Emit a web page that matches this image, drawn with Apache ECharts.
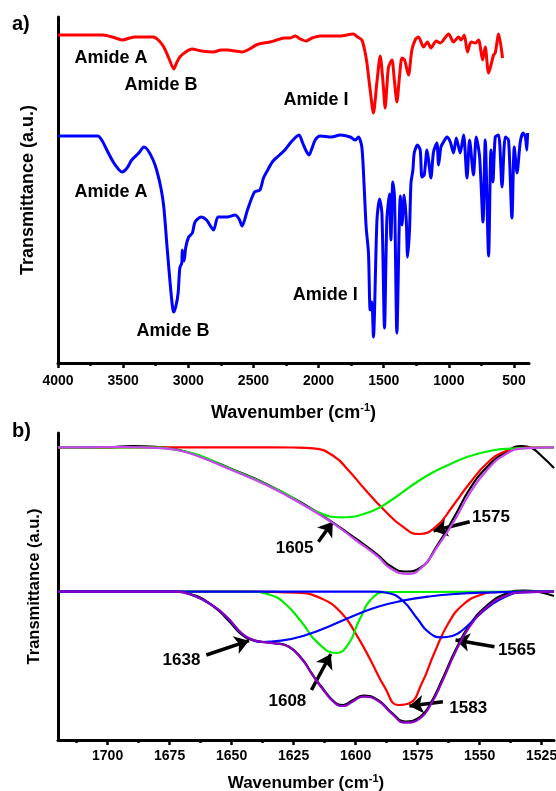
<!DOCTYPE html>
<html>
<head>
<meta charset="utf-8">
<script src="https://cdn.jsdelivr.net/npm/echarts@6/dist/echarts.min.js"></script>
<style>
  html, body { margin: 0; padding: 0; background: #fff; }
  #chart { width: 556px; height: 791px; }
</style>
</head>
<body>
<div id="chart"></div>
<script>
// ---- Panel a: full FTIR spectra, [wavenumber, transmittance a.u.] ----
const wnTicksA = [4000, 3500, 3000, 2500, 2000, 1500, 1000, 500];
const wnMinorA = [3750, 3250, 2750, 2250, 1750, 1250, 750];

const redA = [
  [4000,328],[3850,328],[3654,328],[3560,325],[3502,323],[3450,325],[3409,326],[3270,326],
  [3230,323],[3188,316],[3150,305],[3111,294],[3090,300],[3065,306],[3020,311],[2971,314],
  [2900,312],[2806,311],[2750,313],[2696,313],[2640,312],[2587,311],[2530,314],[2479,318],
  [2420,320],[2372,321],[2320,323],[2259,325],[2220,325],[2180,327],[2140,324],[2095,322],
  [2050,325],[1988,327],[1900,327],[1834,327],[1734,329],[1700,326],[1668,323],[1645,312],
  [1629,300],[1604,273],[1579,250],[1553,280],[1527,307],[1505,280],[1489,255],[1475,278],
  [1463,296],[1437,303],[1420,285],[1399,261],[1380,285],[1360,305],[1340,303],[1310,288],
  [1284,313],[1255,324],[1233,326],[1195,316],[1164,321],[1138,315],[1097,322],[1066,320],
  [1002,329],[964,321],[926,326],[907,323],[882,328],[857,311],[830,321],[797,320],[772,323],
  [741,303],[721,316],[695,290],[657,308],[644,310],[618,329],[588,305]
];

const blueA = [
  [4000,227],[3800,227],[3694,227],[3660,222],[3625,213],[3571,200],[3508,191],[3470,195],
  [3434,203],[3380,210],[3340,216],[3311,213],[3270,203],[3243,193],[3210,175],[3188,156],
  [3161,113],[3136,75],[3120,55],[3111,51],[3095,57],[3078,70],[3065,95],[3050,100],
  [3046,113],[3032,102],[3019,116],[2997,126],[2969,130],[2948,141],[2902,146],[2860,143],
  [2806,133],[2773,146],[2740,146],[2696,146],[2641,148],[2610,144],[2587,137],[2546,153],
  [2492,171],[2450,173],[2423,185],[2390,193],[2355,201],[2300,208],[2259,213],[2204,222],
  [2150,228],[2122,220],[2095,212],[2073,208],[2050,215],[2026,223],[1988,227],[1900,226],
  [1834,228],[1757,226],[1719,223],[1694,226],[1668,216],[1650,176],[1635,136],[1617,110],
  [1604,53],[1591,61],[1579,26],[1552,143],[1532,164],[1514,150],[1494,35],[1476,143],
  [1456,169],[1445,123],[1430,181],[1417,166],[1399,30],[1373,167],[1360,138],[1343,168],
  [1327,143],[1317,106],[1302,133],[1291,180],[1276,193],[1266,210],[1241,218],[1220,213],
  [1207,186],[1189,188],[1168,213],[1156,203],[1138,185],[1118,211],[1092,220],[1079,198],
  [1061,216],[1041,221],[1015,226],[989,221],[964,210],[943,225],[913,210],[887,228],
  [861,185],[841,223],[811,188],[790,226],[764,206],[738,141],[721,223],[695,107],[677,213],
  [662,181],[644,226],[618,228],[592,176],[567,226],[542,223],[516,145],[498,216],[477,190],
  [452,221],[431,230],[413,226],[401,213],[396,230]
];

const labelsA = [
  { name: 'Amide A', value: [3593, 304.7] },
  { name: 'Amide B', value: [3209, 278] },
  { name: 'Amide I', value: [2019, 263] },
  { name: 'Amide A', value: [3593, 171.3] },
  { name: 'Amide B', value: [3117, 32] },
  { name: 'Amide I', value: [1949, 68] }
];

// ---- Panel b: amide I deconvolution, [wavenumber, transmittance a.u.] ----
const wnTicksB = [1700, 1675, 1650, 1625, 1600, 1575, 1550, 1525];
const wnMinorB = [1712.5, 1687.5, 1662.5, 1637.5, 1612.5, 1587.5, 1562.5, 1537.5];

const measuredTop = [
  [1720,292.7],[1700,292.7],[1690,294],[1680,293],[1672,290.5],[1663,284],[1650,271],
  [1636,256],[1621,236],[1609,217],[1600,201.5],[1591,185],[1586,174],[1580,168.5],
  [1574,172],[1567,195],[1560,224],[1554,251],[1547,273],[1540,287],[1533,294],[1529,292],
  [1525,284],[1520,272]
];
const fitTop = [
  [1720,292.7],[1693,293],[1680,292],[1672,290],[1663,283.3],[1650,270],[1636,255],
  [1621,235],[1609,216.7],[1600,200],[1591,183.3],[1586,171.7],[1579,166],[1573,173.3],
  [1567,193.3],[1560,220],[1554,246.7],[1547,270],[1540,285],[1532,291.7],[1520,292.7]
];
const band1575Top = [
  [1720,292.7],[1640,292.7],[1625,292.5],[1617,291.7],[1608.5,283.3],[1603,270],[1596,250],
  [1588.5,230],[1581,213.3],[1574.5,206],[1567.6,213.3],[1561,233.3],[1554,256.7],
  [1547,276.7],[1540,288.3],[1531,292.3],[1520,292.7]
];
const band1605Top = [
  [1720,292.7],[1686,292.7],[1672,290],[1650,270.7],[1628.6,246.7],[1617,230],
  [1605.6,222.7],[1594,228.3],[1585.5,240],[1574,260],[1562.6,275],[1550,286.7],
  [1535,291.7],[1520,292.7]
];

const measuredBot = [
  [1720,148.3],[1675,148.5],[1666,145.5],[1657,133],[1651.5,120],[1646,105.5],[1643,101],
  [1638.6,98.5],[1633,97],[1627,93.5],[1621.4,80.5],[1617.8,67],[1614,54],[1608.5,38],
  [1605,35],[1601.3,39.5],[1597,44.5],[1591,40],[1585.5,27.5],[1580,18.5],[1574,23],
  [1569.8,36.5],[1564.8,62],[1559.7,90],[1554,115],[1546.8,135],[1539.6,146],[1532,149.5],
  [1526,148],[1520,144]
];
const fitBot = [
  [1720,148.3],[1674.5,148.3],[1666,145],[1657,133.3],[1651.5,121.7],[1646,106.7],
  [1643,101.7],[1638.6,98.3],[1633,96.7],[1627,93.3],[1621.4,80],[1617.8,66.7],[1614,53.3],
  [1608.5,37.3],[1605,34],[1601.3,38.3],[1597,43.3],[1591,39.3],[1585.5,26.7],[1580,17.3],
  [1574,21.7],[1569.8,35],[1564.8,60],[1559.7,88.3],[1554,113.3],[1546.8,133.3],
  [1539.6,144],[1532.5,147.7],[1520,148.3]
];
const band1583Bot = [
  [1720,148.3],[1643,148.3],[1624.3,147.3],[1614,141.7],[1605.6,126.7],[1600,106.7],
  [1594,80],[1588.4,53.3],[1582.7,35],[1578.3,36.7],[1573.3,56.7],[1568.3,86.7],
  [1562.6,116.7],[1556.8,135],[1549.7,145],[1542.5,148],[1520,148.3]
];
const band1608Bot = [
  [1720,148.3],[1643,148.3],[1634.3,145],[1628.6,136.7],[1621.4,116.7],[1615.7,98.3],
  [1607.8,87],[1602.7,96.7],[1598.5,120],[1592.7,143.3],[1587,148],[1520,148.3]
];
const band1638Bot = [
  [1720,148.3],[1672,148.3],[1666,145],[1657,133.3],[1651.5,121.7],[1646,106.7],
  [1642,100.5],[1638,98],[1630,99.3],[1620,105],[1611,113.3],[1600,125],[1591,133.3],
  [1581,139.3],[1571,143.3],[1560,146],[1545,147.6],[1530,148.3],[1520,148.3]
];
const band1565Bot = [
  [1720,148.3],[1592,148.3],[1587,147],[1581.3,140],[1575,121],[1570.8,108.3],
  [1565.5,102.7],[1561,104],[1556.8,110],[1551,123.3],[1545.4,135],[1539.6,143.3],
  [1533.9,147.6],[1520,148.3]
];

const labelsB = [
  { name: '1605', value: [1624.6, 191.7] },
  { name: '1575', value: [1545.4, 222.7] },
  { name: '1638', value: [1670.2, 80] },
  { name: '1608', value: [1627.5, 38.3] },
  { name: '1565', value: [1535, 90] },
  { name: '1583', value: [1554.6, 31.7] }
];
// pointer arrows: [tail, head]
const arrowsB = [
  [[1615, 198.3], [1609.2, 218.3]],
  [[1554, 218.3], [1568.6, 209.3]],
  [[1660.2, 85], [1643, 99.3]],
  [[1617.8, 50], [1610, 86]],
  [[1544, 93.3], [1559.7, 100]],
  [[1564.8, 38.3], [1578.3, 34]]
];

const FONT = 'Liberation Sans';

function titleStyle(size) {
  return {
    fontSize: size, fontWeight: 'bold', color: '#000', fontFamily: FONT, lineHeight: size + 4,
    rich: { sup: { fontSize: Math.round(size * 0.62), fontWeight: 'bold', color: '#000',
                   fontFamily: FONT, verticalAlign: 'top', lineHeight: Math.round(size * 0.62) } }
  };
}

function xAxes(grid, min, max, major, minor, margin, gap, size) {
  return [
    {
      gridIndex: grid, type: 'value', min: min, max: max, inverse: true, position: 'bottom',
      axisLine: { show: true, onZero: false, lineStyle: { color: '#000', width: 3 } },
      axisTick: { show: true, customValues: major, length: 5, lineStyle: { color: '#000', width: 2.5 } },
      axisLabel: { customValues: major, color: '#000', fontSize: 14, fontWeight: 'bold',
                   fontFamily: FONT, margin: margin, hideOverlap: false,
                   formatter: v => String(v) },
      splitLine: { show: false },
      name: 'Wavenumber (cm{sup|-1})', nameLocation: 'middle', nameGap: gap,
      nameTextStyle: titleStyle(size)
    },
    {
      gridIndex: grid, type: 'value', min: min, max: max, inverse: true, position: 'bottom',
      axisLine: { show: false, onZero: false },
      axisTick: { show: true, customValues: minor, length: 3, lineStyle: { color: '#000', width: 2.5 } },
      axisLabel: { show: false },
      splitLine: { show: false }
    }
  ];
}

function yAxis(grid, max, gap, size) {
  return {
    gridIndex: grid, type: 'value', min: 0, max: max, position: 'left',
    axisLine: { show: true, onZero: false, lineStyle: { color: '#000', width: 3 } },
    axisTick: { show: false }, axisLabel: { show: false }, splitLine: { show: false },
    name: 'Transmittance (a.u.)', nameLocation: 'middle', nameRotate: 90, nameGap: gap,
    nameTextStyle: { fontSize: size, fontWeight: 'bold', color: '#000', fontFamily: FONT }
  };
}

function curve(data, color, width, xi, yi, smooth) {
  return {
    type: 'line', data: data, xAxisIndex: xi, yAxisIndex: yi, showSymbol: false,
    smooth: smooth, silent: true, lineStyle: { color: color, width: width },
    itemStyle: { color: color }
  };
}

function textMarks(data, xi, yi, size) {
  return {
    type: 'scatter', data: data, xAxisIndex: xi, yAxisIndex: yi, symbolSize: 0, silent: true,
    itemStyle: { opacity: 1, color: '#000' },
    label: { show: true, position: 'inside', formatter: '{b}', color: '#000', opacity: 1,
             fontSize: size, fontWeight: 'bold', fontFamily: FONT }
  };
}

const chart = echarts.init(document.getElementById('chart'), null, { renderer: 'canvas' });

chart.setOption({
  animation: false,
  backgroundColor: '#fff',
  textStyle: { fontFamily: FONT, fontWeight: 'bold' },
  grid: [
    { left: 58, top: 17, width: 471, height: 346, containLabel: false, outerBoundsMode: 'none' },
    { left: 58, top: 433, width: 496, height: 307, containLabel: false, outerBoundsMode: 'none' }
  ],
  xAxis: [
    ...xAxes(0, 385, 4000, wnTicksA, wnMinorA, 11, 39, 18),
    ...xAxes(1, 1520, 1720, wnTicksB, wnMinorB, 9, 33, 17)
  ],
  yAxis: [yAxis(0, 346, 21, 18), yAxis(1, 307, 15, 16.5)],
  graphic: [
    { type: 'text', left: 12, top: 14, style: { text: 'a)', font: 'bold 20px "Liberation Sans"', fill: '#000' } },
    { type: 'text', left: 12, top: 421, style: { text: 'b)', font: 'bold 20px "Liberation Sans"', fill: '#000' } }
  ],
  series: [
    curve(redA, '#ff0000', 3, 0, 0, 0.25),
    curve(blueA, '#0000ff', 3, 0, 0, 0.25),
    textMarks(labelsA, 0, 0, 18),

    curve(measuredTop, '#000000', 2.2, 2, 1, 0.5),
    curve(band1575Top, '#ff0000', 2.2, 2, 1, 0.5),
    curve(band1605Top, '#00ee00', 2.2, 2, 1, 0.5),
    curve(fitTop, '#c845f0', 2.2, 2, 1, 0.5),

    curve(measuredBot, '#000000', 2.2, 2, 1, 0.5),
    curve(band1583Bot, '#ff0000', 2.2, 2, 1, 0.5),
    curve(band1608Bot, '#00ee00', 2.2, 2, 1, 0.5),
    curve(band1638Bot, '#0000ff', 2.2, 2, 1, 0.5),
    curve(band1565Bot, '#0000ff', 2.2, 2, 1, 0.5),
    curve(fitBot, '#8a00c4', 2.2, 2, 1, 0.5),

    textMarks(labelsB, 2, 1, 17),
    {
      type: 'lines', coordinateSystem: 'cartesian2d', xAxisIndex: 2, yAxisIndex: 1,
      silent: true, symbol: ['none', 'arrow'], symbolSize: 14,
      lineStyle: { color: '#000', width: 3.5, opacity: 1, curveness: 0 },
      data: arrowsB.map(c => ({ coords: c }))
    }
  ]
});
</script>
</body>
</html>
